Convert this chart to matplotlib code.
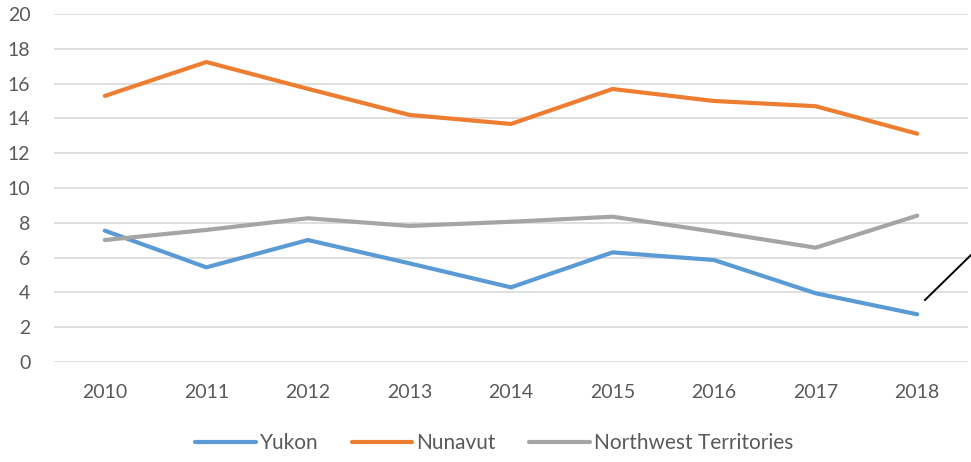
import matplotlib.pyplot as plt
from matplotlib.lines import Line2D

# datos
anios = ["2010", "2011", "2012", "2013", "2014", "2015", "2016", "2017", "2018"]
yukon = [7.55, 5.44, 7.01, 5.67, 4.29, 6.30, 5.86, 3.95, 2.74]
nunavut = [15.29, 17.24, 15.7, 14.2, 13.68, 15.69, 15.0, 14.7, 13.12]
noroeste = [7.01, 7.59, 8.26, 7.82, 8.06, 8.35, 7.49, 6.57, 8.41]

plt.rcParams["font.family"] = ["Lato", "DejaVu Sans"]

fig = plt.figure(figsize=(9.71, 4.62), dpi=100)
ax = fig.add_axes([54 / 971, 1 - 362 / 462, 914 / 971, 348 / 462])

x = range(len(anios))
ax.plot(x, yukon, color="#5b9bd5", lw=3, label="Yukon", solid_capstyle="round")
ax.plot(x, nunavut, color="#ed7d31", lw=3, label="Nunavut", solid_capstyle="round")
ax.plot(x, noroeste, color="#a5a5a5", lw=3, label="Northwest Territories",
        solid_capstyle="round")

ax.set_xlim(-0.5, len(anios) - 0.5)
ax.set_ylim(0, 20)
ax.set_yticks(range(0, 21, 2))
ax.set_xticks(list(x))
ax.set_xticklabels(anios)
ax.grid(axis="y", color="#d9d9d9", lw=1.2)
ax.set_axisbelow(True)
for s in ax.spines.values():
    s.set_visible(False)
ax.tick_params(axis="both", length=0, labelsize=14, colors="#595959")
ax.tick_params(axis="y", pad=17)
ax.tick_params(axis="x", pad=16)

# linea negra suelta a la derecha (resto de una llamada)
fig.add_artist(Line2D([925 / 971, 972 / 971], [1 - 300 / 462, 1 - 254 / 462],
                      color="black", lw=1.4, transform=fig.transFigure))

leg = fig.legend(loc="center", bbox_to_anchor=(0.509, 1 - 443 / 462), ncol=3,
                 frameon=False, fontsize=15, handlelength=2.9, handletextpad=0.2,
                 columnspacing=1.6)
for t in leg.get_texts():
    t.set_color("#595959")

fig.savefig("out.png", dpi=100)
